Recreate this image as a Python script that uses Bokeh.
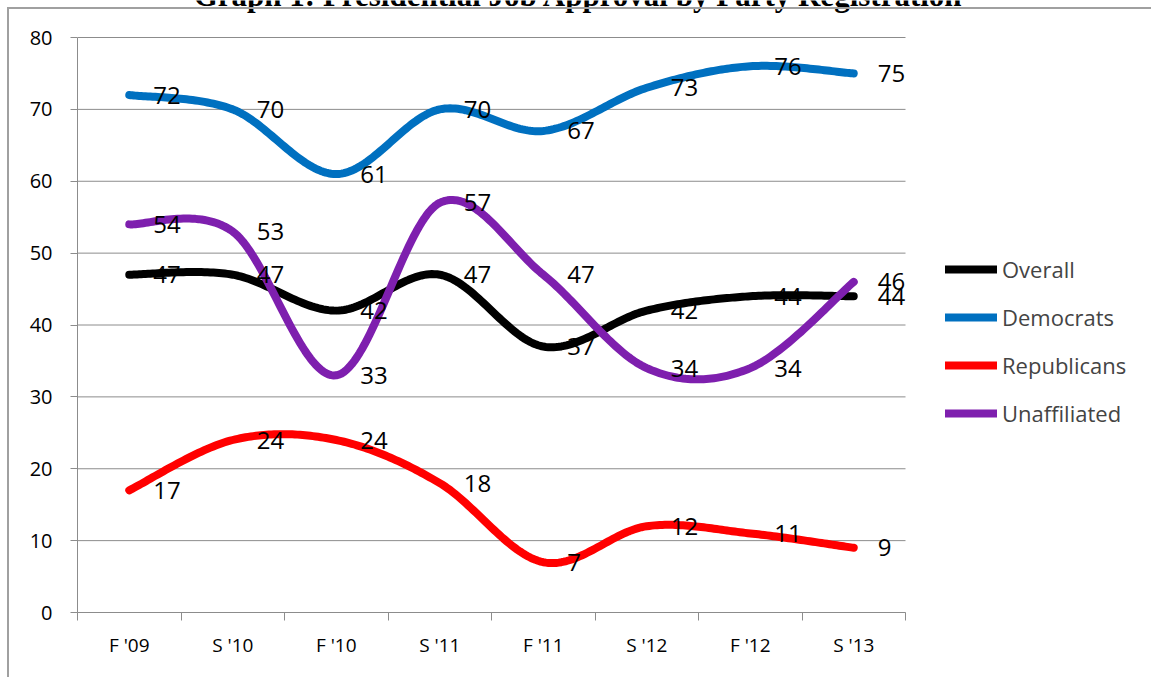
import numpy as np
from bokeh.plotting import figure
from bokeh.models import (ColumnDataSource, LabelSet, Label, Legend, LegendItem,
                          FixedTicker, Range1d, InlineStyleSheet)
from bokeh.core.properties import value
from bokeh.embed import file_html
from bokeh.resources import INLINE

# Survey waves and approval percentages
waves = ["F '09", "S '10", "F '10", "S '11", "F '11", "S '12", "F '12", "S '13"]
overall = [47, 47, 42, 47, 37, 42, 44, 44]
democrats = [72, 70, 61, 70, 67, 73, 76, 75]
republicans = [17, 24, 24, 18, 7, 12, 11, 9]
unaffiliated = [54, 53, 33, 57, 47, 34, 34, 46]
y_ticks = [0, 10, 20, 30, 40, 50, 60, 70, 80]

series = [
    ("Overall", overall, "#000000"),
    ("Democrats", democrats, "#0070C0"),
    ("Republicans", republicans, "#FF0000"),
    ("Unaffiliated", unaffiliated, "#7E1FAE"),
]

FONT = "Open Sans"
GRAY = "#8C8C8C"

W, H = 1151, 677
LEFT, BOTTOM = 77, 65          # room for the axes
PLOT_W, PLOT_TOP = 828, 37     # width of the category area, gap above the 80 line


def smooth(xs, ys, steps=40):
    """Catmull-Rom style Bezier smoothing through every point."""
    pts = np.column_stack([xs, ys]).astype(float)
    n = len(pts)
    ext = np.vstack([pts[0], pts, pts[-1]])
    out = []
    for i in range(n - 1):
        p0, p1, p2, p3 = ext[i], ext[i + 1], ext[i + 2], ext[i + 3]
        c1 = p1 + (p2 - p0) / 6.0
        c2 = p2 - (p3 - p1) / 6.0
        t = np.linspace(0, 1, steps, endpoint=(i == n - 2))[:, None]
        seg = ((1 - t) ** 3) * p1 + 3 * ((1 - t) ** 2) * t * c1 + 3 * (1 - t) * t ** 2 * c2 + t ** 3 * p2
        out.append(seg)
    arr = np.vstack(out)
    return arr[:, 0], arr[:, 1]


n = len(waves)
centers = [i + 0.5 for i in range(n)]
bounds = list(range(n + 1))
ymax = y_ticks[-1]

frame_w = W - LEFT
frame_h = H - BOTTOM
x_end = n * frame_w / PLOT_W
y_end = ymax * frame_h / (frame_h - PLOT_TOP)

p = figure(width=W, height=H, output_backend="svg", toolbar_location=None,
           x_range=Range1d(0, x_end), y_range=Range1d(0, y_end),
           min_border_left=LEFT, min_border_right=0, min_border_top=0,
           min_border_bottom=BOTTOM)
p.outline_line_color = None
p.background_fill_color = "white"
p.border_fill_color = "white"

# page frame drawn over the canvas: left and top rules
p.stylesheets = [InlineStyleSheet(css="""
:host { position: relative; }
:host::after {
  content: ""; position: absolute; left: 7px; top: 7px; right: -20px; bottom: -20px;
  border-left: 2px solid #A0A0A0; border-top: 2px solid #A0A0A0;
  pointer-events: none;
}
""")]

# x axis: labels under each category, tick marks on the category boundaries
p.xaxis.bounds = (0, n)
p.xaxis.ticker = FixedTicker(ticks=centers, minor_ticks=bounds)
p.xaxis.major_label_overrides = {c: w for c, w in zip(centers, waves)}
p.xaxis.major_tick_out = 0
p.xaxis.major_tick_in = 0
p.xaxis.minor_tick_out = 8
p.xaxis.minor_tick_in = 0
p.xaxis.minor_tick_line_color = GRAY
p.xaxis.axis_line_color = GRAY
p.xaxis.major_label_standoff = 11
p.xaxis.major_label_text_font = FONT
p.xaxis.major_label_text_font_size = "19px"
p.xaxis.major_label_text_color = "black"

p.yaxis.bounds = (0, ymax)
p.yaxis.ticker = FixedTicker(ticks=y_ticks)
p.yaxis.major_tick_out = 7
p.yaxis.major_tick_in = 0
p.yaxis.minor_tick_line_color = None
p.yaxis.major_tick_line_color = GRAY
p.yaxis.axis_line_color = GRAY
p.yaxis.major_label_standoff = 18
p.yaxis.major_label_text_font = FONT
p.yaxis.major_label_text_font_size = "20px"
p.yaxis.major_label_text_color = "black"

# horizontal gridlines only across the category area
p.xgrid.grid_line_color = None
p.ygrid.grid_line_color = None
p.segment(x0=[0] * len(y_ticks), x1=[n] * len(y_ticks), y0=y_ticks, y1=y_ticks,
          line_color=GRAY, line_width=1)

renderers = {}
for name, vals, color in series:
    sx, sy = smooth(centers, vals)
    r = p.line(sx, sy, line_color=color, line_width=8, line_cap="round", line_join="round")
    renderers[name] = r

for name, vals, color in series:
    src = ColumnDataSource(dict(x=centers, y=vals, t=[str(v) for v in vals]))
    p.add_layout(LabelSet(x="x", y="y", text="t", source=src, x_offset=24,
                          text_baseline="middle", text_align="left",
                          text_font=value(FONT), text_font_size=value("24px"),
                          text_color="black"))

legend = Legend(items=[LegendItem(label=nm, renderers=[renderers[nm]]) for nm, _, _ in series],
                location=(868, 184), orientation="vertical",
                glyph_width=52, glyph_height=28, label_height=28, spacing=18,
                label_standoff=5, padding=0, margin=0,
                label_text_font=FONT, label_text_font_size="22px",
                border_line_color=None, background_fill_alpha=0)
p.add_layout(legend, "center")

p.add_layout(Label(x=578, y=-5, x_units="canvas", y_units="canvas",
                   text="Graph 1: Presidential Job Approval by Party Registration",
                   text_align="center", text_baseline="alphabetic",
                   text_font="Liberation Serif", text_font_style="bold",
                   text_font_size="31px", text_color="black"))

open("out.html", "w").write(file_html(p, INLINE))
